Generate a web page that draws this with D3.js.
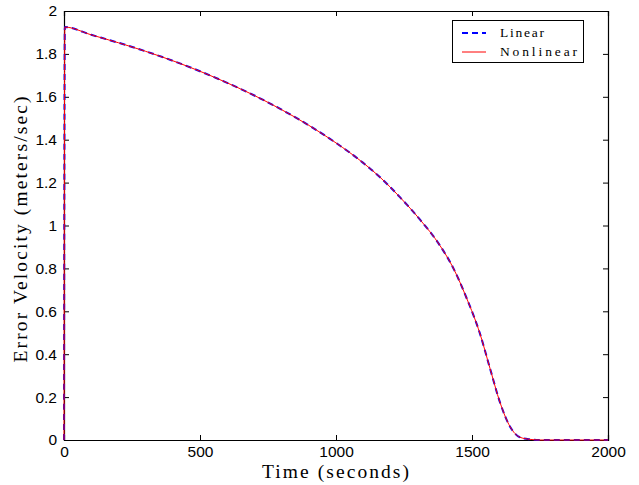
<!DOCTYPE html>
<html><head><meta charset="utf-8">
<script src="https://cdn.jsdelivr.net/npm/d3@7"></script>
<style>body{margin:0;background:#fff}svg{display:block}</style>
</head><body>
<script>
const timeSec = [0, 3, 100, 200, 300, 400, 500, 600, 700, 800, 900, 1000, 1100, 1162, 1235, 1309, 1382, 1431, 1480, 1529, 1566, 1603, 1640, 1676, 1713, 1750, 2000];
const linearVel = [0, 1.925, 1.889, 1.852, 1.812, 1.768, 1.719, 1.665, 1.606, 1.540, 1.467, 1.385, 1.292, 1.225, 1.132, 1.027, 0.907, 0.802, 0.662, 0.497, 0.335, 0.175, 0.062, 0.013, 0.003, 0, 0];
const nonlinearVel = [0, 1.925, 1.889, 1.852, 1.812, 1.768, 1.719, 1.665, 1.606, 1.540, 1.467, 1.385, 1.292, 1.225, 1.132, 1.027, 0.907, 0.802, 0.662, 0.497, 0.335, 0.175, 0.062, 0.013, 0.003, 0, 0];
const xTicks = [0, 500, 1000, 1500, 2000];
const yTicks = [0, 0.2, 0.4, 0.6, 0.8, 1, 1.2, 1.4, 1.6, 1.8, 2];
const seriesNames = ["Linear", "Nonlinear"];

const W = 639, H = 485;
const L = 64, R = 608, T = 11, B = 440;
const svg = d3.select("body").append("svg").attr("width", W).attr("height", H);
const x = d3.scaleLinear().domain([0, 2000]).range([L, R]);
const y = d3.scaleLinear().domain([0, 2]).range([B, T]);

const line = d3.line().x(d => x(d[0])).y(d => y(d[1])).curve(d3.curveMonotoneX);
const lin = timeSec.map((t, i) => [t, linearVel[i]]);
const non = timeSec.map((t, i) => [t, nonlinearVel[i]]);

const tickFont = "'Liberation Sans', Arial, sans-serif";
const serif = "'Liberation Serif', 'DejaVu Serif', serif";

const gx = svg.append("g").attr("transform", `translate(0,${B})`)
  .call(d3.axisBottom(x).tickValues(xTicks).tickSize(-5).tickPadding(6).tickFormat(d3.format("d")));
const gxt = svg.append("g").attr("transform", `translate(0,${T})`)
  .call(d3.axisTop(x).tickValues(xTicks).tickSize(-5).tickFormat(""));
const gy = svg.append("g").attr("transform", `translate(${L},0)`)
  .call(d3.axisLeft(y).tickValues(yTicks).tickSize(-5).tickPadding(7).tickFormat(d => d3.format("")(+d.toFixed(1))));
const gyr = svg.append("g").attr("transform", `translate(${R},0)`)
  .call(d3.axisRight(y).tickValues(yTicks).tickSize(-5).tickFormat(""));
[gx, gxt, gy, gyr].forEach(g => {
  g.select(".domain").attr("stroke", "#000").attr("stroke-width", 1.2);
  g.selectAll(".tick line").attr("stroke", "#000").attr("stroke-width", 1);
  g.selectAll("text").attr("font-family", tickFont).attr("font-size", 15.5).attr("fill", "#000");
});

svg.append("path").datum(lin).attr("d", line).attr("fill", "none")
  .attr("stroke", "#0000ff").attr("stroke-width", 2).attr("stroke-dasharray", "6,4");
svg.append("path").datum(non).attr("d", line).attr("fill", "none")
  .attr("stroke", "#ff0000").attr("stroke-width", 1);

svg.append("text").attr("x", 335.5).attr("y", 478).attr("text-anchor", "middle")
  .attr("font-family", serif).attr("font-size", 19.5)
  .attr("textLength", 147).attr("lengthAdjust", "spacing").text("Time (seconds)");
svg.append("text").attr("transform", `translate(27,229.5) rotate(-90)`).attr("text-anchor", "middle")
  .attr("font-family", serif).attr("font-size", 19.5)
  .attr("textLength", 266).attr("lengthAdjust", "spacing").text("Error Velocity (meters/sec)");

const lg = svg.append("g");
lg.append("rect").attr("x", 452.5).attr("y", 20.5).attr("width", 131).attr("height", 42)
  .attr("fill", "#fff").attr("stroke", "#000").attr("stroke-width", 1);
const legendY = [33, 52];
const legendStyles = [
  {stroke: "#0000ff", w: 2, dash: "6,4"},
  {stroke: "#ff0000", w: 1, dash: null}
];
seriesNames.forEach((n, i) => {
  lg.append("line").attr("x1", 462).attr("x2", 486).attr("y1", legendY[i]).attr("y2", legendY[i])
    .attr("stroke", legendStyles[i].stroke).attr("stroke-width", legendStyles[i].w)
    .attr("stroke-dasharray", legendStyles[i].dash);
  lg.append("text").attr("x", 500).attr("y", legendY[i] + 4).attr("font-family", serif)
    .attr("font-size", 13.5).attr("textLength", i === 0 ? 44 : 77).attr("lengthAdjust", "spacing").text(n);
});
</script>
</body></html>
